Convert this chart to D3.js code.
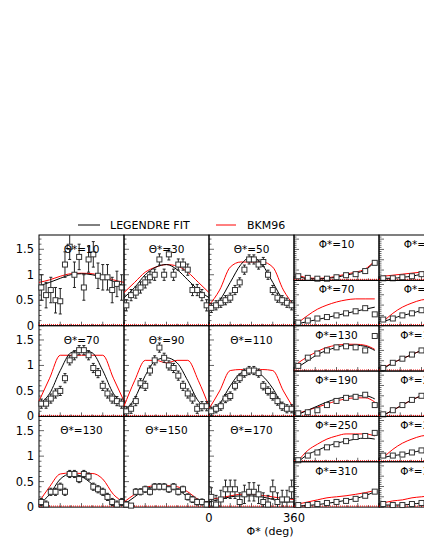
<!DOCTYPE html>
<html><head><meta charset="utf-8">
<script src="https://cdn.jsdelivr.net/npm/d3@7"></script>
<style>body{margin:0;background:#fff}text{font-family:"DejaVu Sans",sans-serif}</style>
</head><body>
<div id="chart"></div>
<script>
// Theta* panels: 18 phi bins (10..350 deg), fit curves sampled every 45 deg
var thetaLabels = ["Θ*=10","Θ*=30","Θ*=50","Θ*=70","Θ*=90","Θ*=110","Θ*=130","Θ*=150","Θ*=170"];
var phiBins = d3.range(10, 360, 20);
var curvePhi = [0,45,90,135,180,225,270,315,360];
var thetaPts = [
  [0.75,0.6,0.7,0.5,0.48,1.2,1.55,1.0,1.35,0.75,1.3,1.4,0.98,0.95,0.95,0.7,0.82,0.75],
  [0.4,0.6,0.65,0.75,0.85,0.95,1.0,1.3,1.0,1.4,1.0,1.2,1.2,1.1,0.7,0.7,0.6,0.4],
  [0.35,0.4,0.45,0.5,0.55,0.7,0.85,1.1,1.3,1.3,1.2,1.25,1.0,0.7,0.55,0.5,0.45,0.4],
  [0.25,0.25,0.35,0.45,0.5,0.75,1.1,1.2,1.3,1.3,1.2,0.95,0.85,0.6,0.45,0.35,0.3,0.25],
  [0.1,0.15,0.3,0.65,0.6,0.9,1.1,1.35,1.15,1.0,0.95,0.8,0.6,0.45,0.35,0.15,0.2,0.2],
  [0.1,0.15,0.2,0.35,0.4,0.6,0.75,0.85,0.9,0.9,0.85,0.6,0.5,0.4,0.3,0.2,0.15,0.15],
  [0.1,0.05,0.3,0.3,0.4,0.3,0.65,0.65,0.55,0.65,0.6,0.4,0.35,0.3,0.2,0.1,0.05,0.1],
  [0.05,0.0,0.3,0.3,0.35,0.3,0.4,0.4,0.4,0.35,0.4,0.3,0.35,0.2,0.15,0.1,0.1,0.05],
  [0.2,0.05,0.15,0.35,0.35,0.35,0.1,0.25,0.3,0.3,0.25,0.1,0.05,0.35,0.1,0.15,0.15,0.35]
];
var thetaErr = [0.25,0.11,0.09,0.09,0.09,0.08,0.07,0.06,0.18];
var thetaFit = [
  [0.78,0.85,0.93,1.0,1.02,1.0,0.95,0.87,0.78],
  [0.55,0.75,1.0,1.15,1.2,1.1,0.9,0.7,0.55],
  [0.35,0.5,0.85,1.2,1.35,1.2,0.85,0.5,0.35],
  [0.25,0.45,0.9,1.25,1.3,1.25,0.9,0.45,0.25],
  [0.1,0.35,0.8,1.1,1.15,1.05,0.7,0.3,0.15],
  [0.1,0.25,0.6,0.85,0.9,0.8,0.55,0.2,0.1],
  [0.05,0.25,0.55,0.65,0.6,0.45,0.25,0.1,0.05],
  [0.05,0.2,0.35,0.4,0.4,0.35,0.2,0.1,0.05],
  [0.1,0.15,0.2,0.22,0.22,0.2,0.15,0.1,0.1]
];
var thetaBkm = [
  [0.85,0.9,0.97,1.02,1.03,1.02,0.97,0.9,0.85],
  [0.65,0.85,1.05,1.15,1.2,1.17,1.05,0.85,0.65],
  [0.4,0.7,1.15,1.25,1.25,1.25,1.15,0.7,0.4],
  [0.3,0.75,1.2,1.2,1.2,1.2,1.2,0.75,0.3],
  [0.2,0.7,1.1,1.1,1.05,1.1,1.1,0.7,0.2],
  [0.15,0.5,0.9,0.92,0.88,0.92,0.9,0.5,0.15],
  [0.1,0.4,0.65,0.67,0.66,0.66,0.55,0.25,0.1],
  [0.1,0.25,0.38,0.42,0.42,0.4,0.3,0.15,0.1],
  [0.15,0.18,0.22,0.25,0.25,0.23,0.2,0.17,0.15]
];
// Phi* panels: 9 bins across theta
var phiLabels = ["Φ*=10","Φ*=70","Φ*=130","Φ*=190","Φ*=250","Φ*=310","Φ*=30","Φ*=90","Φ*=150","Φ*=210","Φ*=270","Φ*=330"];
var phiPts = [
  [0.2,0.12,0.08,0.08,0.15,0.25,0.3,0.45,0.85],
  [0.15,0.25,0.35,0.42,0.5,0.6,0.7,0.85,0.55],
  [0.25,0.65,0.85,1.0,1.15,1.2,1.15,1.0,1.7],
  [0.15,0.2,0.3,0.55,0.75,0.9,0.95,1.05,0.55],
  [0.05,0.3,0.45,0.7,0.85,1.0,1.2,1.25,1.4],
  [0.1,0.1,0.15,0.2,0.25,0.3,0.4,0.55,0.75],
  [0.1,0.1,0.15,0.2,0.3,0.4,0.5,0.6,0.8],
  [0.3,0.35,0.5,0.6,0.75,0.9,1.0,1.1,1.2],
  [0.15,0.4,0.6,0.8,1.0,1.15,1.25,1.3,1.3],
  [0.1,0.3,0.55,0.8,1.0,1.1,1.2,1.2,1.1],
  [0.3,0.3,0.35,0.45,0.55,0.7,0.8,0.9,1.0],
  [0.15,0.1,0.1,0.15,0.2,0.3,0.4,0.5,0.6]
];
var phiFit = [
  [0.2,0.08,0.07,0.1,0.15,0.25,0.35,0.5,0.9],
  [0.1,0.2,0.3,0.4,0.5,0.6,0.7,0.8,0.9],
  [0.2,0.5,0.8,1.0,1.15,1.25,1.25,1.2,1.0],
  [0.1,0.3,0.5,0.7,0.85,0.95,1.0,1.0,0.85],
  [0.0,0.35,0.55,0.75,0.9,1.0,1.1,1.15,1.1],
  [0.05,0.08,0.12,0.18,0.25,0.33,0.42,0.55,0.75],
  [0.1,0.1,0.15,0.2,0.3,0.4,0.5,0.6,0.8],
  [0.2,0.35,0.5,0.6,0.75,0.9,1.0,1.1,1.2],
  [0.1,0.4,0.6,0.8,1.0,1.15,1.25,1.3,1.3],
  [0.05,0.3,0.55,0.8,1.0,1.1,1.2,1.2,1.1],
  [0.2,0.3,0.35,0.45,0.55,0.7,0.8,0.9,1.0],
  [0.1,0.1,0.1,0.15,0.2,0.3,0.4,0.5,0.6]
];
var phiBkm = [
  [0.25,0.12,0.1,0.12,0.2,0.3,0.4,0.55,0.95],
  [0.15,0.5,0.8,1.0,1.15,1.25,1.3,1.3,1.3],
  [0.4,0.7,0.95,1.15,1.25,1.3,1.3,1.25,1.05],
  [0.15,0.3,0.45,0.6,0.75,0.85,0.9,0.9,0.7],
  [0.05,0.55,0.85,1.1,1.25,1.35,1.35,1.35,1.25],
  [0.15,0.25,0.35,0.45,0.5,0.55,0.62,0.7,0.8],
  [0.2,0.25,0.3,0.35,0.4,0.45,0.55,0.65,0.85],
  [0.2,0.6,0.9,1.1,1.25,1.3,1.35,1.35,1.3],
  [0.15,0.4,0.6,0.8,1.0,1.15,1.25,1.3,1.3],
  [0.05,0.3,0.55,0.8,1.0,1.1,1.2,1.2,1.1],
  [0.2,0.6,0.9,1.1,1.25,1.3,1.35,1.35,1.3],
  [0.2,0.3,0.35,0.45,0.5,0.55,0.6,0.7,0.8]
];
var yTicks = [0, 0.5, 1, 1.5];

var svg = d3.select("#chart").append("svg").attr("width", 424).attr("height", 548);

var left = 39, pw = 85, gridTop = 235, ph = 90.7;

function panel(x0, y0, w, h, xdom, ymax, xs, pts, err, cx, fit, bkm, label, showY) {
  var x = d3.scaleLinear().domain(xdom).range([x0, x0 + w]);
  var y = d3.scaleLinear().domain([0, ymax]).range([y0 + h, y0]);
  var g = svg.append("g");
  g.append("rect").attr("x", x0).attr("y", y0).attr("width", w).attr("height", h)
    .attr("fill", "none").attr("stroke", "#000").attr("stroke-width", 1);
  // ticks
  d3.range(0, ymax, 0.1).forEach(function (t, i) {
    var len = (i % 5 == 0) ? 5 : 2.5;
    g.append("line").attr("x1", x0).attr("x2", x0 + len).attr("y1", y(t)).attr("y2", y(t)).attr("stroke", "#000").attr("stroke-width", 0.6);
  });
  d3.range(0, 9).forEach(function (i) {
    var xx = x0 + w * i / 8;
    g.append("line").attr("x1", xx).attr("x2", xx).attr("y1", y0 + h).attr("y2", y0 + h - (i % 2 ? 2 : 4)).attr("stroke", "#000").attr("stroke-width", 0.6);
  });
  g.append("line").attr("x1", x0).attr("x2", x0 + w).attr("y1", y(0) - 1).attr("y2", y(0) - 1)
    .attr("stroke", "red").attr("stroke-dasharray", "1,1").attr("stroke-width", 1);
  if (showY) {
    yTicks.forEach(function (t) {
      g.append("text").attr("x", x0 - 5).attr("y", y(t) + 4).attr("text-anchor", "end")
        .attr("font-size", 11.5).text(t);
    });
  }
  var line = d3.line().curve(d3.curveMonotoneX).x(function (d) { return x(d[0]); }).y(function (d) { return y(d[1]); });
  g.append("path").attr("d", line(cx.map(function (c, i) { return [c, bkm[i]]; })))
    .attr("fill", "none").attr("stroke", "red").attr("stroke-width", 1);
  g.append("path").attr("d", line(cx.map(function (c, i) { return [c, fit[i]]; })))
    .attr("fill", "none").attr("stroke", "#000").attr("stroke-width", 1);
  pts.forEach(function (v, i) {
    var px = x(xs[i]);
    if (err > 0) {
      g.append("line").attr("x1", px).attr("x2", px).attr("y1", Math.max(y0, y(v + err))).attr("y2", Math.min(y0 + h, y(v - err))).attr("stroke", "#222").attr("stroke-width", 1);
      [v + err, v - err].forEach(function (e) {
        if (e >= 0 && e <= ymax)
          g.append("line").attr("x1", px - 1.5).attr("x2", px + 1.5).attr("y1", y(e)).attr("y2", y(e)).attr("stroke", "#222");
      });
    }
    g.append("rect").attr("x", px - 2.5).attr("y", Math.min(y0 + h - 4, y(v) - 2.5)).attr("width", 5).attr("height", 5)
      .attr("fill", "#fff").attr("stroke", "#333").attr("stroke-width", 1);
  });
  g.append("text").attr("x", x0 + w / 2).attr("y", y0 + (h > 60 ? 18 : 13)).attr("text-anchor", "middle")
    .attr("font-size", 10.5).text(label);
}

thetaLabels.forEach(function (lab, k) {
  var c = k % 3, r = Math.floor(k / 3);
  panel(left + c * pw, gridTop + r * ph, pw, ph, [0, 360], 1.78, phiBins, thetaPts[k], thetaErr[k], curvePhi, thetaFit[k], thetaBkm[k], lab, c == 0);
});
var rh = ph * 3 / 6;
var cosBins = d3.range(9).map(function (i) { return -0.9 + i * 0.225; });
phiLabels.forEach(function (lab, k) {
  var c = Math.floor(k / 6), r = k % 6;
  panel(left + 3 * pw + c * pw, gridTop + r * rh, pw, rh, [-1, 1], 2.2, cosBins, phiPts[k], 0.06, cosBins, phiFit[k], phiBkm[k], lab, false);
});

// x axis labels
svg.append("text").attr("x", left + 2 * pw).attr("y", 522).attr("text-anchor", "middle").attr("font-size", 11.5).text("0");
svg.append("text").attr("x", left + 3 * pw).attr("y", 522).attr("text-anchor", "middle").attr("font-size", 11.5).text("360");
svg.append("text").attr("x", 270).attr("y", 535).attr("text-anchor", "middle").attr("font-size", 11).text("Φ* (deg)");

// legend
svg.append("line").attr("x1", 78).attr("x2", 100).attr("y1", 225).attr("y2", 225).attr("stroke", "#000");
svg.append("text").attr("x", 110).attr("y", 229).attr("font-size", 11).text("LEGENDRE FIT");
svg.append("line").attr("x1", 216).attr("x2", 236).attr("y1", 225).attr("y2", 225).attr("stroke", "red");
svg.append("text").attr("x", 247).attr("y", 229).attr("font-size", 11).text("BKM96");
</script>
</body></html>
